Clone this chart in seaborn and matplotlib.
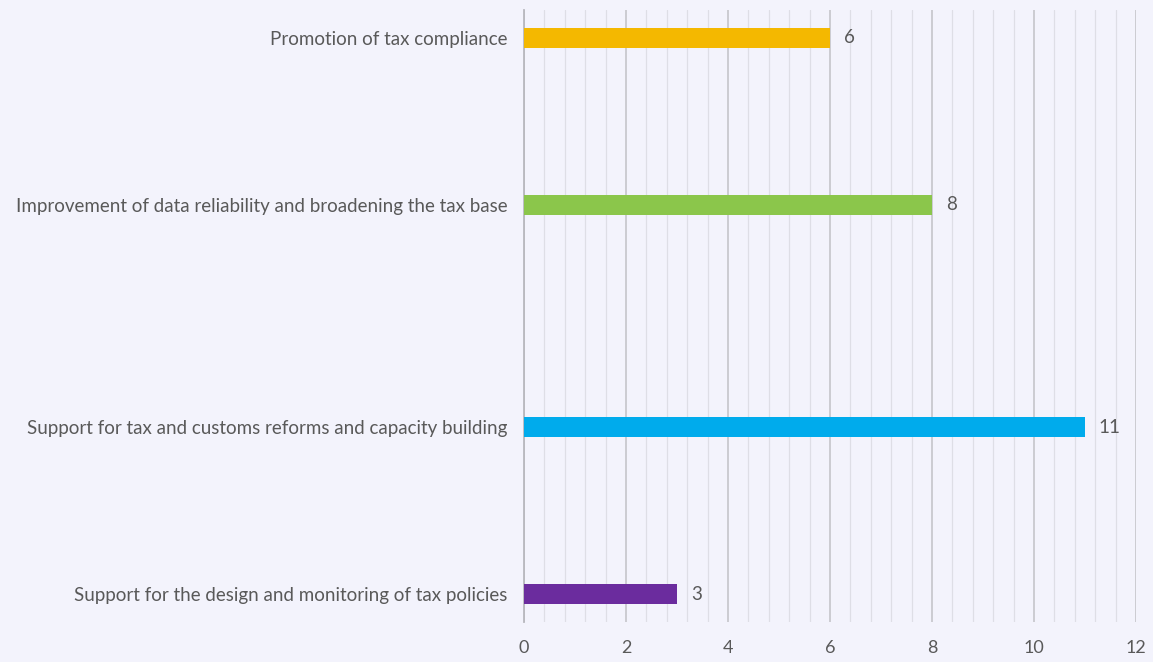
import numpy as np
import pandas as pd
import matplotlib
matplotlib.use("Agg")
import matplotlib.pyplot as plt
import seaborn as sns
from matplotlib.ticker import MultipleLocator

# chart data (top to bottom); empty slots in the original layout are kept as gaps
categories = [
    "Promotion of tax compliance",
    "Improvement of data reliability and broadening the tax base",
    "Support for tax and customs reforms and capacity building",
    "Support for the design and monitoring of tax policies",
]
values = [6, 8, 11, 3]
colors = ["#F4B800", "#8BC64B", "#00ABEC", "#6B2C9E"]
slot_order = [categories[0], "gap1", "gap2", categories[1], "gap3", "gap4",
              "gap5", categories[2], "gap6", "gap7", categories[3]]
x_ticks = [0, 2, 4, 6, 8, 10, 12]

bg = "#F3F3FC"
txt = "#595959"

sns.set_theme(style="white")
plt.rcParams["font.family"] = ["Lato", "DejaVu Sans"]

df = pd.DataFrame({"category": categories, "value": values})

fig = plt.figure(figsize=(11.53, 6.62), dpi=100, facecolor=bg)
ax = fig.add_axes([0.4545, 0.06, 0.5308, 0.925])
ax.set_facecolor(bg)

sns.barplot(data=df, y="category", x="value", order=slot_order,
            hue="category", hue_order=categories, palette=colors,
            width=0.36, legend=False, ax=ax, zorder=3, saturation=1,
            linewidth=0)

# value labels
for cat, v in zip(categories, values):
    ax.text(v + 0.27, slot_order.index(cat), str(v), va="center", ha="left",
            fontsize=13.5, color=txt)

ax.set_xlim(0, 12)
ax.set_ylim(len(slot_order) - 0.5, -0.5)
ax.set_xticks(x_ticks)
ax.xaxis.set_minor_locator(MultipleLocator(0.4))
ax.grid(axis="x", which="major", color="#C8C8CE", linewidth=1.3, zorder=0)
ax.grid(axis="x", which="minor", color="#DEDEE6", linewidth=0.9, zorder=0)
ax.grid(axis="y", visible=False)

ax.set_yticks([slot_order.index(c) for c in categories])
ax.set_yticklabels(categories)
ax.tick_params(axis="y", length=0, pad=12, labelsize=13.5, labelcolor=txt)
ax.tick_params(axis="x", length=0, pad=13, labelsize=13, labelcolor=txt)
ax.set_xlabel("")
ax.set_ylabel("")

for s in ["top", "right", "bottom"]:
    ax.spines[s].set_visible(False)
ax.spines["left"].set_color("#B8B8BE")
ax.spines["left"].set_linewidth(1.3)

fig.savefig("out.png", dpi=100, facecolor=bg)
